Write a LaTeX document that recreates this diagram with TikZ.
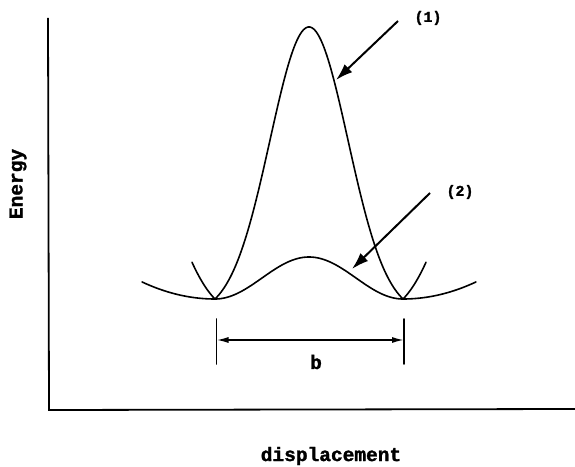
\documentclass[tikz,border=0pt]{standalone}
\usepackage{fontspec}
\setmonofont[BoldFeatures={FakeBold=1.5}]{Liberation Mono}
\usetikzlibrary{arrows.meta}
\begin{document}
\begin{tikzpicture}[x=1pt, y=1pt, >=latex,
    eje/.style={line width=1.8pt},
    curva/.style={line width=1.6pt, line cap=round, line join=round},
    flecha/.style={-{Latex[length=17pt,width=11pt]}, line width=2pt},
    cota/.style={{Latex[length=12pt,width=6pt]}-{Latex[length=12pt,width=6pt]}, line width=1.6pt},
    etiqueta/.style={font=\ttfamily\bfseries\fontsize{19.5}{22}\selectfont, inner sep=0pt},
    marca/.style={font=\ttfamily\bfseries\fontsize{15}{18}\selectfont, inner sep=0pt}
  ]
  \useasboundingbox (0,0) rectangle (575,466);

  % Ejes
  \coordinate (ytope) at (48,448);
  \coordinate (origen) at (49,56);
  \coordinate (xfin) at (575,57);
  \draw[eje] (ytope) -- (origen) -- (xfin);

  % Textos de los ejes
  \node[etiqueta, rotate=90] (energia) at (18,282) {Energy};
  \node[etiqueta] (despl) at (331,10) {displacement};

  % Curva (1): barrera alta
  \draw[curva] plot[domain=-94:94, samples=120, smooth]
    ({309+\x}, {167+272*(exp(-\x*\x/3042)-0.0547)/0.9453});
  \draw[curva] plot[domain=0:23, samples=30, smooth] ({215-\x}, {167+\x+0.026*\x*\x});
  \draw[curva] plot[domain=0:23, samples=30, smooth] ({403+\x}, {167+\x+0.026*\x*\x});

  % Curva (2): barrera baja
  \draw[curva] plot[domain=-73:0, samples=40, smooth] ({215+\x}, {167+0.0032*\x*\x})
    -- plot[domain=-94:94, samples=100, smooth] ({309+\x}, {167+42*(cos(90*\x/94))^2})
    -- plot[domain=0:73, samples=40, smooth] ({403+\x}, {167+0.0032*\x*\x});

  % Flechas de las curvas
  \node[marca] (m1) at (428,448) {(1)};
  \coordinate (f1ini) at (398,445);
  \coordinate (f1fin) at (336,386);
  \draw[flecha] (f1ini) -- (f1fin);

  \node[marca] (m2) at (460,274) {(2)};
  \coordinate (f2ini) at (430,273);
  \coordinate (f2fin) at (352,197);
  \draw[flecha] (f2ini) -- (f2fin);

  % Distancia b
  \coordinate (bizq) at (216.5,126);
  \coordinate (bder) at (404,126);
  \draw[curva] ([yshift=21pt]bizq) -- ([yshift=-24pt]bizq);
  \draw[curva] ([yshift=21pt]bder) -- ([yshift=-24pt]bder);
  \draw[cota] (bizq) -- (bder);
  \node[etiqueta] (b) at (316,104) {b};
\end{tikzpicture}
\end{document}
